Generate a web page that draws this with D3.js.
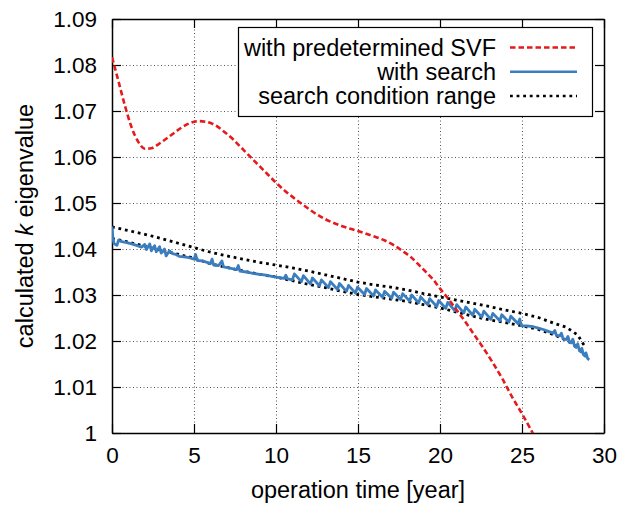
<!DOCTYPE html>
<html><head><meta charset="utf-8">
<script src="https://cdn.jsdelivr.net/npm/d3@7"></script>
<style>body{margin:0;background:#fff}svg{display:block}text{font-family:"Liberation Sans",Arial,sans-serif;fill:#000}</style>
</head><body><svg id="c" width="625" height="506"></svg>
<script>
// ---- data ----
const xTicks = [0,5,10,15,20,25,30];
const yTicks = [1,1.01,1.02,1.03,1.04,1.05,1.06,1.07,1.08,1.09];
const yTickLabels = ["1","1.01","1.02","1.03","1.04","1.05","1.06","1.07","1.08","1.09"];
const seriesNames = ["with predetermined SVF","with search","search condition range"];

const redT = [0,0.4,0.8,1.2,1.6,2.0,2.4,2.8,3.2,3.7,4.2,4.7,5.3,5.8,6.3,6.8,7.4,8.0,8.5,9.0,9.5,10,10.7,11.5,12.2,13,14,15,16,16.6,17.2,17.7,18.2,18.7,19.2,19.6,20,20.5,21,21.5,22,22.6,23.2,23.8,24.4,25,25.5,25.8];
const redV = [1.0817,1.0764,1.0710,1.0664,1.0633,1.0618,1.0619,1.0627,1.0637,1.0650,1.0663,1.0673,1.0678,1.0676,1.0669,1.0656,1.0638,1.0616,1.0598,1.0580,1.0562,1.0544,1.0522,1.0500,1.0482,1.0465,1.0450,1.0439,1.0427,1.0419,1.0408,1.0396,1.0383,1.0366,1.0348,1.0333,1.0314,1.0292,1.0268,1.0244,1.0218,1.0187,1.0154,1.0118,1.0078,1.0042,1.0010,0.9990];

const upperT = [0,1,2,3,4,5,6,7,8,9,10,11,12,13,14,15,16,17,18,19,20,21,22,23,24,25,26,27,27.7,28.4,28.8];
const upperV = [1.0448,1.0440,1.0432,1.0423,1.0413,1.0403,1.0393,1.0385,1.0378,1.0371,1.0365,1.0359,1.0352,1.0344,1.0336,1.0328,1.0322,1.0317,1.0311,1.0303,1.0296,1.0289,1.0282,1.0275,1.0267,1.0260,1.0251,1.0238,1.0230,1.0213,1.0190];

const lowerT = [0,1,2,3,4,5,6,7,8,9,10,11,12,13,14,15,16,17,18,19,20,21,22,23,24,25,26,27,28,28.5,28.9];
const lowerV = [1.0423,1.0415,1.0406,1.0397,1.0389,1.0380,1.0368,1.0360,1.0352,1.0345,1.0339,1.0331,1.0323,1.0316,1.0308,1.0301,1.0296,1.0291,1.0286,1.0279,1.0272,1.0263,1.0254,1.0246,1.0240,1.0233,1.0225,1.0213,1.0196,1.0182,1.0168];

const blueT = [0.00,0.05,0.12,0.30,0.40,0.6,0.9,1.2,1.5,1.8,2.0,2.1,2.3,2.4,2.6,2.7,2.9,3.0,3.2,3.3,3.5,3.7,3.9,4.1,4.4,4.7,5.0,5.1,5.2,5.5,5.8,6.0,6.1,6.2,6.5,6.7,6.8,7.1,7.4,7.6,7.7,7.8,8.2,8.6,9.0,9.4,9.8,10.2,10.5,10.6,10.7,
 11.00,11.12,11.55,11.67,12.10,12.22,12.65,12.77,13.20,13.32,13.75,13.87,14.30,14.42,14.85,14.97,15.40,15.52,15.95,16.07,16.50,16.62,17.05,17.17,17.60,17.72,18.15,18.27,18.70,18.82,19.25,19.37,19.80,19.92,20.35,20.47,20.90,21.02,21.45,21.57,22.00,22.12,22.55,22.67,23.10,23.22,23.65,23.77,24.20,24.32,24.75,
 24.87,24.95,25.3,25.7,26.0,26.3,26.6,26.9,27.0,27.1,27.3,27.4,27.5,27.7,27.8,27.9,28.0,28.1,28.2,28.3,28.4,28.5,28.6,28.65,28.75,28.85,28.9,29.0,29.1];
const blueV = [1.0449,1.0425,1.0412,1.0408,1.0419,1.0416,1.0414,1.0411,1.0408,1.0404,1.0410,1.0399,1.0411,1.0396,1.0407,1.0394,1.0405,1.0391,1.0400,1.0385,1.0396,1.0390,1.0388,1.0384,1.0383,1.0381,1.0378,1.0388,1.0375,1.0374,1.0371,1.0368,1.0378,1.0365,1.0364,1.0374,1.0361,1.0359,1.0357,1.0355,1.0364,1.0352,1.0350,1.0347,1.0345,1.0343,1.0340,1.0338,1.0336,1.0343,1.0335,
 1.0333,1.0346,1.0329,1.0342,1.0324,1.0337,1.0320,1.0333,1.0316,1.0329,1.0312,1.0325,1.0308,1.0321,1.0304,1.0317,1.0301,1.0314,1.0298,1.0311,1.0295,1.0308,1.0293,1.0306,1.0290,1.0303,1.0287,1.0300,1.0283,1.0296,1.0279,1.0292,1.0275,1.0288,1.0271,1.0284,1.0266,1.0279,1.0261,1.0274,1.0256,1.0269,1.0252,1.0265,1.0247,1.0260,1.0244,1.0257,1.0241,1.0254,1.0238,
 1.0248,1.0233,1.0233,1.0231,1.0228,1.0225,1.0221,1.0217,1.0223,1.0212,1.0211,1.0217,1.0205,1.0203,1.0210,1.0197,1.0196,1.0204,1.0189,1.0186,1.0194,1.0179,1.0176,1.0184,1.0170,1.0167,1.0174,1.0162,1.0159];

// ---- layout ----
const svg = d3.select("#c");
const L=112, R=604, T=19, B=433;
const x = d3.scaleLinear().domain([0,30]).range([L,R]);
const y = d3.scaleLinear().domain([1,1.09]).range([B,T]);
const zip = (a,b)=>a.map((t,i)=>[t,b[i]]);
const line = d3.line().x(d=>x(d[0])).y(d=>y(d[1]));

svg.append("clipPath").attr("id","clip").append("rect").attr("x",L).attr("y",T).attr("width",R-L).attr("height",B-T);

// grid
const grid = svg.append("g").attr("stroke","#555").attr("stroke-width",1).attr("stroke-dasharray","1,2.5");
grid.selectAll(".gx").data(xTicks.slice(1,-1)).join("line")
  .attr("x1",d=>Math.round(x(d))+0.5).attr("x2",d=>Math.round(x(d))+0.5).attr("y1",T).attr("y2",B);
grid.selectAll(".gy").data(yTicks.slice(1,-1)).join("line")
  .attr("y1",d=>Math.round(y(d))+0.5).attr("y2",d=>Math.round(y(d))+0.5).attr("x1",L).attr("x2",R);

// axes (inward ticks, mirrored)
const fmtY = d=>yTickLabels[yTicks.indexOf(d)];
const axB = svg.append("g").attr("transform",`translate(0,${B})`).call(d3.axisBottom(x).tickValues(xTicks).tickSizeInner(-9).tickSizeOuter(0).tickPadding(14));
const axT = svg.append("g").attr("transform",`translate(0,${T})`).call(d3.axisTop(x).tickValues(xTicks).tickSizeInner(-9).tickSizeOuter(0).tickFormat(""));
const axL = svg.append("g").attr("transform",`translate(${L},0)`).call(d3.axisLeft(y).tickValues(yTicks).tickSizeInner(-9).tickSizeOuter(0).tickPadding(15).tickFormat(fmtY));
const axR = svg.append("g").attr("transform",`translate(${R},0)`).call(d3.axisRight(y).tickValues(yTicks).tickSizeInner(-9).tickSizeOuter(0).tickFormat(""));
[axB,axT,axL,axR].forEach(g=>{g.select(".domain").attr("stroke","#000").attr("stroke-width",1.5);g.selectAll(".tick line").attr("stroke","#000").attr("stroke-width",1.2);g.selectAll("text").attr("font-family","Liberation Sans, Arial, sans-serif").attr("font-size",22.5).attr("fill","#000");});

// series
const plot = svg.append("g").attr("clip-path","url(#clip)").attr("fill","none");
plot.append("path").datum(zip(upperT,upperV)).attr("d",line).attr("stroke","#000").attr("stroke-width",2.8).attr("stroke-dasharray","2.8,3.8");
plot.append("path").datum(zip(lowerT,lowerV)).attr("d",line).attr("stroke","#000").attr("stroke-width",2.8).attr("stroke-dasharray","2.8,3.8");
plot.append("path").datum(zip(blueT,blueV)).attr("d",line).attr("stroke","#3a7ebf").attr("stroke-width",2.8).attr("stroke-linejoin","round");
plot.append("path").datum(zip(redT,redV)).attr("d",d3.line().curve(d3.curveMonotoneX).x(d=>x(d[0])).y(d=>y(d[1]))).attr("stroke","#e41a1c").attr("stroke-width",2.6).attr("stroke-dasharray","5.5,3");

// axis titles
svg.append("text").attr("x",358).attr("y",498).attr("text-anchor","middle").attr("font-size",23.5).text("operation time [year]");
const yt = svg.append("text").attr("transform","translate(33,226) rotate(-90)").attr("text-anchor","middle").attr("font-size",23.5);
yt.append("tspan").text("calculated ");
yt.append("tspan").attr("font-style","italic").text("k");
yt.append("tspan").text(" eigenvalue");

// legend
const lg = svg.append("g");
lg.append("rect").attr("x",238.5).attr("y",27.5).attr("width",354).attr("height",89).attr("fill","#fff").attr("stroke","#000").attr("stroke-width",1.2);
const rows=[47.5,71.8,96];
const styles=[{c:"#e41a1c",d:"5.5,3"},{c:"#3a7ebf",d:null},{c:"#000",d:"2.8,3.8"}];
seriesNames.forEach((n,i)=>{
  lg.append("text").attr("x",496).attr("y",rows[i]).attr("dy","0.35em").attr("text-anchor","end").attr("font-size",23.5).text(n);
  const l=lg.append("line").attr("x1",510).attr("x2",577).attr("y1",rows[i]).attr("y2",rows[i]).attr("stroke",styles[i].c).attr("stroke-width",2.6);
  if(styles[i].d) l.attr("stroke-dasharray",styles[i].d);
});
</script></body></html>
